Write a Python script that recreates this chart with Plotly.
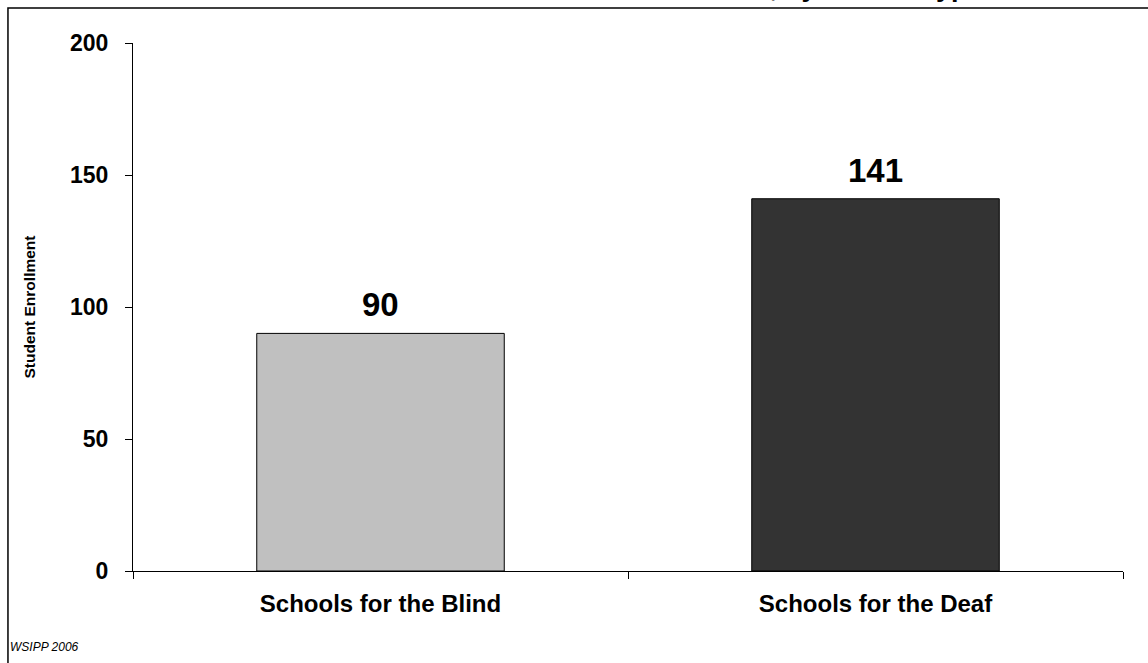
import plotly.graph_objects as go

# Enrollment by school type
categories = ["Schools for the Blind", "Schools for the Deaf"]
enrollment = [90, 141]
bar_colors = ["#C0C0C0", "#333333"]

y_ticks = [0, 50, 100, 150, 200]

FONT = "Liberation Sans, Arial, sans-serif"

fig = go.Figure(
    go.Bar(
        x=categories,
        y=enrollment,
        width=0.5,
        marker=dict(color=bar_colors, line=dict(color="black", width=1)),
        hoverinfo="skip",
    )
)

# value labels above the bars
for cat, val in zip(categories, enrollment):
    fig.add_annotation(
        x=cat, y=val, text=f"<b>{val}</b>", showarrow=False,
        yanchor="bottom", yshift=8,
        font=dict(family=FONT, size=33, color="black"),
    )

# chart title (runs off the top edge of the page)
fig.add_annotation(
    xref="paper", yref="paper", x=0.8606, y=1.0739,
    xanchor="right", yanchor="bottom",
    text="<b>Student Enrollment, by School Type</b>", showarrow=False,
    font=dict(family=FONT, size=27, color="black"),
)

# source note
fig.add_annotation(
    xref="paper", yref="paper", x=-0.1263, y=-0.1435,
    xanchor="left", yanchor="middle",
    text="<i>WSIPP 2006</i>", showarrow=False,
    font=dict(family=FONT, size=12, color="black"),
)

# outer frame
fig.add_shape(
    type="rect", xref="paper", yref="paper",
    x0=-0.1263, x1=1.2, y0=-0.4, y1=1.0663,
    line=dict(color="black", width=1.5), fillcolor="rgba(0,0,0,0)",
)

fig.update_layout(
    width=1148, height=663,
    margin=dict(l=133, r=25, t=43, b=92),
    plot_bgcolor="white", paper_bgcolor="white",
    showlegend=False,
    font=dict(family=FONT, color="black"),
    xaxis=dict(
        type="category",
        showline=True, linecolor="black", linewidth=1,
        ticks="outside", tickson="boundaries", ticklen=7, tickcolor="black",
        tickfont=dict(family=FONT, size=24, color="black"),
        ticklabelstandoff=11,
        showgrid=False, zeroline=False,
    ),
    yaxis=dict(
        range=[0, 200], tickvals=y_ticks,
        ticktext=[f"<b>{t}</b>" for t in y_ticks],
        showline=True, linecolor="black", linewidth=1,
        ticks="outside", ticklen=7, tickcolor="black",
        tickfont=dict(family=FONT, size=23, color="black"),
        ticklabelstandoff=12,
        showgrid=False, zeroline=False,
        title=dict(text="<b>Student Enrollment</b>", standoff=30,
                   font=dict(family=FONT, size=15.5, color="black")),
    ),
)
fig.update_xaxes(ticktext=[f"<b>{c}</b>" for c in categories], tickvals=categories)

fig.write_html("out.html")
